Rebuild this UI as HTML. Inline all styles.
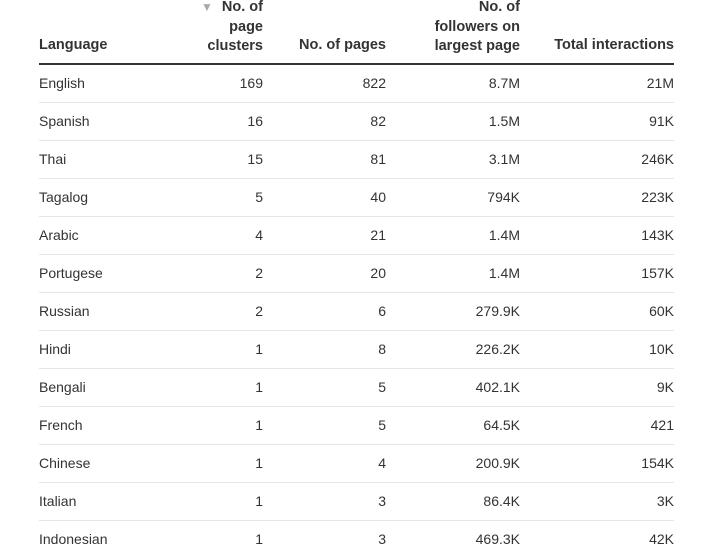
<!DOCTYPE html>
<html><head><style>
body{margin:0;width:705px;height:552px;overflow:hidden;background:#fff;font-family:"Liberation Sans",Arial,sans-serif;color:#333;position:relative}
.h{position:absolute;font-weight:bold;font-size:14.5px;line-height:19.5px;color:#333}
.r{text-align:right}
.line{position:absolute;left:39px;width:635px;height:1px;background:#e6e6e6}
.c{position:absolute;font-size:14px;line-height:16px}
</style></head><body>
<div class="h" style="left:39px;top:36px">Language</div>
<div class="h r" style="right:442px;top:-2px;width:120px"><span style="color:#aaa;font-size:12px;font-weight:normal;margin-right:9px">▼</span>No. of<br>page<br>clusters</div>
<div class="h r" style="right:319px;top:36px;width:120px">No. of pages</div>
<div class="h r" style="right:185px;top:-2px;width:120px">No. of<br>followers on<br>largest page</div>
<div class="h r" style="right:31px;top:36px;width:150px">Total interactions</div>
<div style="position:absolute;left:39px;top:63px;width:635px;height:2px;background:#333"></div>
<div id="rows"></div>
<script>
var d=[["English",169,822,"8.7M","21M"],["Spanish",16,82,"1.5M","91K"],["Thai",15,81,"3.1M","246K"],["Tagalog",5,40,"794K","223K"],["Arabic",4,21,"1.4M","143K"],["Portugese",2,20,"1.4M","157K"],["Russian",2,6,"279.9K","60K"],["Hindi",1,8,"226.2K","10K"],["Bengali",1,5,"402.1K","9K"],["French",1,5,"64.5K","421"],["Chinese",1,4,"200.9K","154K"],["Italian",1,3,"86.4K","3K"],["Indonesian",1,3,"469.3K","42K"]];
var h="";
d.forEach(function(r,i){var y=75+i*38;
h+='<div class="c" style="left:39px;top:'+y+'px">'+r[0]+'</div>';
var rs=[442,319,185,31];
for(var j=1;j<5;j++)h+='<div class="c r" style="right:'+rs[j-1]+'px;top:'+y+'px;width:100px">'+r[j]+'</div>';
if(i<12)h+='<div class="line" style="top:'+(102+i*38)+'px"></div>';
});
document.getElementById("rows").innerHTML=h;
</script>
</body></html>
